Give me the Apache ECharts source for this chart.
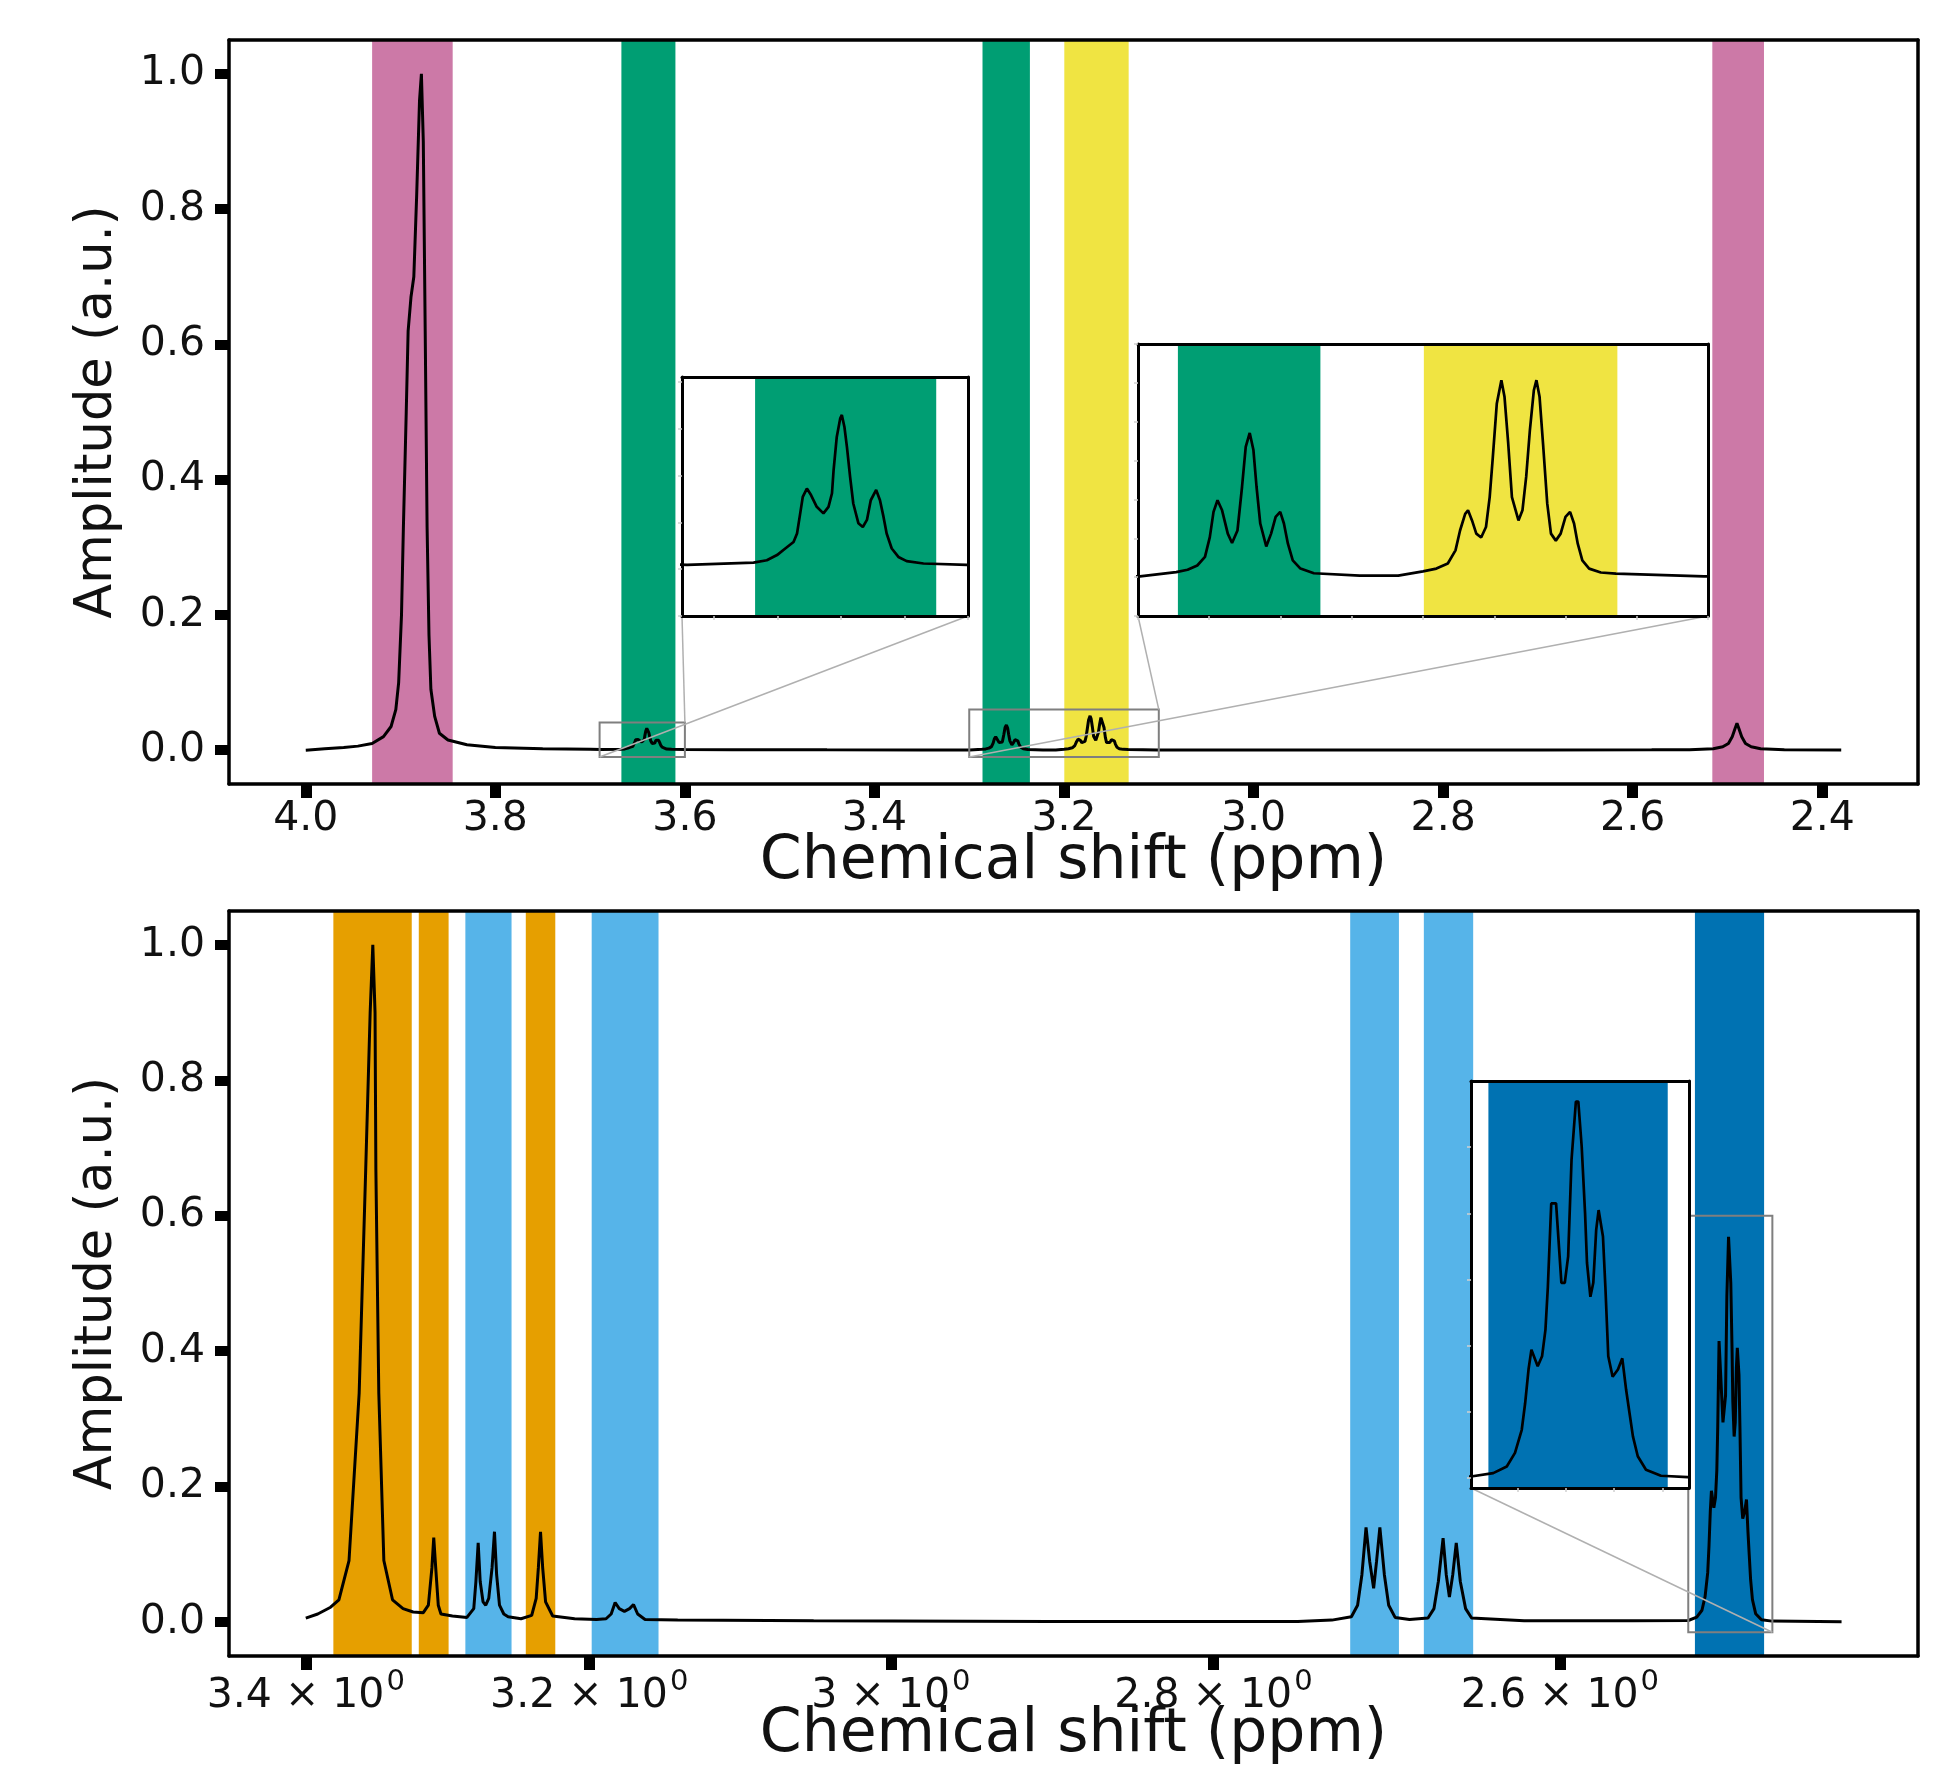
<!DOCTYPE html>
<html><head><meta charset="utf-8">
<script src="https://cdn.jsdelivr.net/npm/echarts@6/dist/echarts.min.js"></script>
<style>html,body{margin:0;padding:0;background:#fff}#c{width:1958px;height:1765px}</style>
</head><body><div id="c"></div>
<script>
// ---------------- data ----------------
// top panel spectrum: [chemical shift (ppm), amplitude]
const topSpectrum = [
[4.000,0.000],[3.980,0.002],[3.960,0.004],[3.945,0.006],[3.930,0.010],[3.918,0.020],[3.910,0.035],[3.905,0.060],
[3.902,0.100],[3.899,0.200],[3.897,0.330],[3.894,0.500],[3.892,0.620],[3.889,0.670],[3.886,0.700],[3.883,0.820],
[3.880,0.960],[3.878,1.000],[3.876,0.900],[3.874,0.620],[3.872,0.330],[3.870,0.170],[3.868,0.090],[3.864,0.050],
[3.859,0.025],[3.850,0.015],[3.830,0.008],[3.800,0.004],[3.750,0.002],[3.700,0.0012],
[3.6884,0.0009],[3.6675,0.0014],[3.6633,0.0019],[3.6601,0.0030],[3.6575,0.0044],[3.6549,0.0058],[3.6538,0.0076],
[3.6528,0.0119],[3.6520,0.0154],[3.6507,0.0172],[3.6494,0.0158],[3.6476,0.0133],[3.6455,0.0119],[3.6439,0.0133],
[3.6428,0.0162],[3.6423,0.0211],[3.6413,0.0282],[3.6402,0.0322],[3.6397,0.0329],[3.6389,0.0304],[3.6381,0.0261],
[3.6371,0.0197],[3.6361,0.0140],[3.6345,0.0098],[3.6331,0.0090],[3.6318,0.0105],[3.6306,0.0147],[3.6289,0.0169],
[3.6277,0.0147],[3.6266,0.0112],[3.6256,0.0076],[3.6240,0.0044],[3.6219,0.0026],[3.6193,0.0017],[3.6140,0.0012],
[3.6004,0.0009],[3.5500,0.0007],[3.4500,0.0005],[3.3500,0.0004],
[3.2993,0.0002],[3.2866,0.0013],[3.2826,0.0019],[3.2792,0.0030],[3.2765,0.0052],[3.2748,0.0103],[3.2735,0.0168],
[3.2721,0.0198],[3.2705,0.0172],[3.2685,0.0112],[3.2670,0.0088],[3.2651,0.0120],[3.2635,0.0232],[3.2622,0.0335],
[3.2608,0.0371],[3.2595,0.0327],[3.2584,0.0232],[3.2571,0.0138],[3.2550,0.0079],[3.2533,0.0112],[3.2517,0.0155],
[3.2501,0.0168],[3.2488,0.0138],[3.2474,0.0086],[3.2457,0.0043],[3.2430,0.0022],[3.2383,0.0010],[3.2222,0.0004],
[3.2087,0.0004],[3.2000,0.0015],[3.1953,0.0022],[3.1913,0.0035],[3.1886,0.0069],[3.1870,0.0120],[3.1852,0.0163],
[3.1842,0.0172],[3.1828,0.0146],[3.1813,0.0112],[3.1796,0.0102],[3.1779,0.0129],[3.1766,0.0206],[3.1755,0.0309],
[3.1741,0.0447],[3.1725,0.0507],[3.1714,0.0464],[3.1701,0.0344],[3.1688,0.0206],[3.1665,0.0146],[3.1651,0.0172],
[3.1638,0.0258],[3.1625,0.0378],[3.1611,0.0481],[3.1602,0.0507],[3.1591,0.0464],[3.1578,0.0335],[3.1564,0.0189],
[3.1551,0.0112],[3.1534,0.0094],[3.1517,0.0112],[3.1500,0.0155],[3.1484,0.0168],[3.1470,0.0138],[3.1457,0.0086],
[3.1441,0.0043],[3.1417,0.0022],[3.1376,0.0012],[3.1323,0.0009],[3.1014,0.0002],
[3.0000,0.0003],[2.8500,0.0003],[2.7000,0.0003],[2.5800,0.0005],[2.5400,0.0008],
[2.515,0.002],[2.505,0.005],[2.499,0.010],[2.495,0.020],[2.492,0.032],[2.490,0.040],[2.488,0.032],[2.485,0.020],
[2.481,0.010],[2.475,0.005],[2.465,0.002],[2.440,0.0008],[2.380,0.0002]
];
// bottom panel spectrum: [chemical shift (ppm), amplitude]
const bottomSpectrum = [
[3.4000,0.006],[3.3913,0.012],[3.3820,0.022],[3.3760,0.033],[3.3687,0.091],[3.3614,0.338],[3.3567,0.668],[3.3535,0.900],
[3.3516,1.000],[3.3500,0.900],[3.3494,0.668],[3.3473,0.338],[3.3437,0.091],[3.3375,0.033],[3.3300,0.020],[3.3228,0.015],
[3.3156,0.014],[3.3120,0.025],[3.3095,0.080],[3.3082,0.125],[3.3068,0.080],[3.3050,0.025],[3.3031,0.012],[3.2950,0.009],
[3.2848,0.007],[3.2800,0.020],[3.2785,0.060],[3.2769,0.117],[3.2755,0.060],[3.2735,0.030],[3.2716,0.025],[3.2695,0.035],
[3.2672,0.080],[3.2655,0.1335],[3.2640,0.070],[3.2620,0.025],[3.2590,0.012],[3.2560,0.008],[3.2470,0.005],
[3.2396,0.010],[3.2365,0.035],[3.2350,0.080],[3.2335,0.1335],[3.2320,0.080],[3.2300,0.030],[3.2251,0.009],[3.2100,0.005],
[3.1950,0.004],[3.1885,0.005],[3.1850,0.012],[3.1823,0.029],[3.1795,0.020],[3.1760,0.016],[3.1725,0.020],[3.1698,0.026],
[3.1670,0.012],[3.1620,0.004],[3.1400,0.003],[3.0500,0.002],[2.9000,0.001],[2.7500,0.001],[2.7300,0.003],
[2.7186,0.008],[2.7150,0.025],[2.7125,0.070],[2.7101,0.140],[2.7080,0.090],[2.7057,0.050],[2.7040,0.090],[2.7021,0.140],
[2.6995,0.070],[2.6970,0.025],[2.6933,0.007],[2.6850,0.004],
[2.6744,0.006],[2.6710,0.020],[2.6685,0.060],[2.6658,0.124],[2.6640,0.070],[2.6622,0.037],[2.6603,0.070],[2.6583,0.117],
[2.6560,0.060],[2.6530,0.020],[2.6496,0.006],[2.6200,0.002],[2.5600,0.002],
[2.5296,0.0024],[2.5250,0.0075],[2.5222,0.0175],[2.5205,0.038],[2.5191,0.073],[2.5184,0.113],[2.5177,0.164],[2.5171,0.194],
[2.5158,0.169],[2.5149,0.184],[2.5142,0.224],[2.5137,0.289],[2.5130,0.415],[2.5120,0.415],[2.5109,0.295],[2.5102,0.295],
[2.5095,0.335],[2.5088,0.481],[2.5079,0.569],[2.5074,0.569],[2.5067,0.501],[2.5060,0.400],[2.5056,0.325],[2.5049,0.274],
[2.5043,0.295],[2.5037,0.375],[2.5032,0.405],[2.5023,0.365],[2.5018,0.289],[2.5012,0.184],[2.5003,0.153],[2.4992,0.164],
[2.4983,0.181],[2.4975,0.133],[2.4968,0.098],[2.4961,0.063],[2.4951,0.033],[2.4934,0.0125],[2.4903,0.0035],[2.4848,0.0015],
[2.4480,0.0005]
];
// shaded regions (ppm)
const topBandFrom  = [3.930, 3.667, 3.286, 3.1997, 2.516];
const topBandTo    = [3.845, 3.610, 3.236, 3.1318, 2.4615];
const topBandGroup = ['pink','green','green','yellow','pink'];
const bottomBandFrom  = [3.380, 3.3188, 3.2859, 3.2437, 3.1983, 2.7193, 2.6768, 2.5260];
const bottomBandTo    = [3.3238, 3.2977, 3.2536, 3.2233, 3.1529, 2.6911, 2.6487, 2.4889];
const bottomBandGroup = ['orange','orange','sky','orange','sky','sky','sky','blue'];
// axis ticks
const topXTicks = [4.0, 3.8, 3.6, 3.4, 3.2, 3.0, 2.8, 2.6, 2.4];
const ampTicks = [0, 0.2, 0.4, 0.6, 0.8, 1.0];
const bottomXTicks = [3.4, 3.2, 3.0, 2.8, 2.6];
const bottomXTickMantissa = ['3.4', '3.2', '3', '2.8', '2.6'];
const bottomXTickExponent = ['0', '0', '0', '0', '0'];
// axis limits
const topXLim = [4.081, 2.299];
const bottomXLim = [3.4563, 2.4083];
const ampLim = [-0.05, 1.05];
// inset zoom windows [left, right] in ppm and [bottom, top] in amplitude
const inset1X = [3.690, 3.600], inset1Y = [-0.010, 0.041];
const inset2X = [3.300, 3.100], inset2Y = [-0.010, 0.060];
const inset3X = [2.5296, 2.4845], inset3Y = [-0.015, 0.600];
const inset1XTicks = [3.68, 3.66, 3.64, 3.62, 3.60], inset1YTicks = [-0.01, 0, 0.01, 0.02, 0.03, 0.04];
const inset2XTicks = [3.30, 3.275, 3.25, 3.225, 3.20, 3.175, 3.15, 3.125, 3.10], inset2YTicks = [-0.01, 0, 0.01, 0.02, 0.03, 0.04, 0.05, 0.06];
const inset3XTicks = [2.52, 2.51, 2.50, 2.49], inset3YTicks = [0, 0.1, 0.2, 0.3, 0.4, 0.5];

// ---------------- styling ----------------
const FONT = 'DejaVu Sans';
const palette = {pink:'#CC79A7', green:'#009E73', yellow:'#F0E442', orange:'#E69F00', sky:'#56B4E9', blue:'#0072B2'};
const gridRects = [
  {left:229, top:40, width:1689, height:744},
  {left:229, top:911, width:1689, height:745},
  {left:682, top:377, width:286, height:239},
  {left:1138, top:344, width:570, height:272},
  {left:1471, top:1081, width:218, height:407}
];

function bandAreas(from, to, group, lim) {
  const lo = Math.min(lim[0], lim[1]), hi = Math.max(lim[0], lim[1]);
  const out = [];
  for (let i = 0; i < from.length; i++) {
    const a = Math.max(from[i], to[i]), b = Math.min(from[i], to[i]);
    if (b >= hi || a <= lo) continue;
    out.push([{xAxis: Math.min(a, hi), itemStyle: {color: palette[group[i]], opacity: 1}}, {xAxis: Math.max(b, lo)}]);
  }
  return out;
}

const xAxes = [], yAxes = [], series = [];
function frame(g, xType, xLim, yLim, zAx, main) {
  const line = {show: true, onZero: false, lineStyle: {color: '#000', width: main ? 3.5 : 3}};
  const bx = {gridIndex: g, type: xType, min: Math.min(xLim[0], xLim[1]), max: Math.max(xLim[0], xLim[1]), inverse: true,
    position: 'bottom', z: zAx, axisLine: line, splitLine: {show: false}, silent: true, nameMoveOverlap: false};
  if (xType === 'log') bx.logBase = 10;
  const tx = Object.assign({}, bx, {position: 'top', axisTick: {show: false}, axisLabel: {show: false}, name: ''});
  const ly = {gridIndex: g, type: 'value', min: yLim[0], max: yLim[1], position: 'left', z: zAx, axisLine: line,
    splitLine: {show: false}, silent: true, nameMoveOverlap: false};
  const ry = Object.assign({}, ly, {position: 'right', axisTick: {show: false}, axisLabel: {show: false}});
  xAxes.push(bx, tx); yAxes.push(ly, ry);
  return {bx, ly};
}

const tickLabelStyle = {fontFamily: FONT, fontSize: 41, color: '#111'};
const xTitleStyle = {fontFamily: FONT, fontSize: 60, color: '#111', verticalAlign: 'top'};
const yTitleStyle = {fontFamily: FONT, fontSize: 51, color: '#111'};

// main top
let a = frame(0, 'value', topXLim, ampLim, 5, true);
a.bx.axisTick = {show: true, customValues: topXTicks, length: 14, lineStyle: {color: '#000', width: 11}};
a.bx.axisLabel = Object.assign({show: true, customValues: topXTicks, margin: 15, formatter: v => Number(v).toFixed(1)}, tickLabelStyle);
a.bx.name = 'Chemical shift (ppm)'; a.bx.nameLocation = 'middle'; a.bx.nameGap = 48;
a.bx.nameTextStyle = xTitleStyle;
a.ly.axisTick = {show: true, customValues: ampTicks, length: 14, lineStyle: {color: '#000', width: 10}};
a.ly.axisLabel = Object.assign({show: true, customValues: ampTicks, margin: 24, formatter: v => Number(v).toFixed(1)}, tickLabelStyle);
a.ly.name = 'Amplitude (a.u.)'; a.ly.nameLocation = 'middle'; a.ly.nameGap = 106;
a.ly.nameTextStyle = yTitleStyle;

// main bottom (logarithmic x)
a = frame(1, 'log', bottomXLim, ampLim, 5, true);
a.bx.axisTick = {show: true, customValues: bottomXTicks, length: 14, lineStyle: {color: '#000', width: 11}};
a.bx.axisLabel = {show: true, customValues: bottomXTicks, margin: 12, fontFamily: FONT, color: '#111',
  formatter: v => {
    for (let i = 0; i < bottomXTicks.length; i++)
      if (Math.abs(bottomXTicks[i] - v) < 1e-6) return '{m|' + bottomXTickMantissa[i] + ' × 10}{e|' + bottomXTickExponent[i] + '}';
    return '';
  },
  rich: {
    m: {fontFamily: FONT, fontSize: 41, color: '#111', lineHeight: 56, verticalAlign: 'middle'},
    e: {fontFamily: FONT, fontSize: 29, color: '#111', lineHeight: 56, verticalAlign: 'top', padding: [0, 0, 0, 2]}
  }};
a.bx.name = 'Chemical shift (ppm)'; a.bx.nameLocation = 'middle'; a.bx.nameGap = 49;
a.bx.nameTextStyle = xTitleStyle;
a.ly.axisTick = {show: true, customValues: ampTicks, length: 14, lineStyle: {color: '#000', width: 10}};
a.ly.axisLabel = Object.assign({show: true, customValues: ampTicks, margin: 24, formatter: v => Number(v).toFixed(1)}, tickLabelStyle);
a.ly.name = 'Amplitude (a.u.)'; a.ly.nameLocation = 'middle'; a.ly.nameGap = 106;
a.ly.nameTextStyle = yTitleStyle;

// insets
const insetDefs = [
  {g: 2, x: inset1X, y: inset1Y, xt: inset1XTicks, yt: inset1YTicks, data: topSpectrum, from: topBandFrom, to: topBandTo, grp: topBandGroup},
  {g: 3, x: inset2X, y: inset2Y, xt: inset2XTicks, yt: inset2YTicks, data: topSpectrum, from: topBandFrom, to: topBandTo, grp: topBandGroup},
  {g: 4, x: inset3X, y: inset3Y, xt: inset3XTicks, yt: inset3YTicks, data: bottomSpectrum, from: bottomBandFrom, to: bottomBandTo, grp: bottomBandGroup}
];
insetDefs.forEach(d => {
  const f = frame(d.g, 'value', d.x, d.y, 12, false);
  f.bx.axisTick = {show: true, customValues: d.xt, length: 4, lineStyle: {color: '#cfcfcf', width: 1.5}};
  f.bx.axisLabel = {show: false};
  f.ly.axisTick = {show: true, customValues: d.yt, length: 4, lineStyle: {color: '#cfcfcf', width: 1.5}};
  f.ly.axisLabel = {show: false};
});

// series: main panels
const mainDefs = [
  {g: 0, data: topSpectrum, from: topBandFrom, to: topBandTo, grp: topBandGroup, xl: topXLim, boxes: [[inset1X, inset1Y], [inset2X, inset2Y]]},
  {g: 1, data: bottomSpectrum, from: bottomBandFrom, to: bottomBandTo, grp: bottomBandGroup, xl: bottomXLim, boxes: [[inset3X, inset3Y]]}
];
mainDefs.forEach(d => {
  const ax = 2 * d.g;
  series.push({type: 'line', xAxisIndex: ax, yAxisIndex: ax, data: [], z: 1, silent: true,
    markArea: {silent: true, z: 1, data: bandAreas(d.from, d.to, d.grp, d.xl)}});
  series.push({type: 'line', xAxisIndex: ax, yAxisIndex: ax, data: d.data, z: 3, silent: true, showSymbol: false,
    lineStyle: {color: '#000', width: 3}, emphasis: {disabled: true}});
  series.push({type: 'line', xAxisIndex: ax, yAxisIndex: ax, data: [], z: 4, silent: true,
    markArea: {silent: true, z: 4, itemStyle: {color: 'rgba(0,0,0,0)', borderColor: '#7f7f7f', borderWidth: 2},
      data: d.boxes.map(b => [{xAxis: b[0][0], yAxis: b[1][0]}, {xAxis: b[0][1], yAxis: b[1][1]}])}});
});
insetDefs.forEach(d => {
  const ax = 2 * d.g;
  series.push({type: 'line', xAxisIndex: ax, yAxisIndex: ax, data: [], z: 9, silent: true,
    markArea: {silent: true, z: 9, data: bandAreas(d.from, d.to, d.grp, d.x)}});
  series.push({type: 'line', xAxisIndex: ax, yAxisIndex: ax, data: d.data, z: 10, silent: true, showSymbol: false, clip: true,
    lineStyle: {color: '#000', width: 2.7}, emphasis: {disabled: true}});
});

const grids = gridRects.map((r, i) => Object.assign({containLabel: false, outerBoundsMode: 'none'}, r,
  i >= 2 ? {show: true, backgroundColor: '#fff', borderWidth: 0, z: 8} : {show: false}));

const chart = echarts.init(document.getElementById('c'), null, {renderer: 'canvas'});
chart.setOption({
  animation: false,
  backgroundColor: '#fff',
  grid: grids,
  xAxis: xAxes,
  yAxis: yAxes,
  series: series
});

// connector lines between zoom boxes and insets
function px(axIdx, x, y) { return chart.convertToPixel({xAxisIndex: axIdx, yAxisIndex: axIdx}, [x, y]); }
const connectors = [];
function conn(p, q) {
  connectors.push({type: 'line', z: 6, silent: true, shape: {x1: p[0], y1: p[1], x2: q[0], y2: q[1]},
    style: {stroke: '#b0b0b0', lineWidth: 1.5}});
}
// top insets: inset lower-left -> box upper-right ; inset lower-right -> box lower-left
[[inset1X, inset1Y, 4], [inset2X, inset2Y, 6]].forEach(([X, Y, ia]) => {
  conn(px(ia, X[0], Y[0]), px(0, X[1], Y[1]));
  conn(px(ia, X[1], Y[0]), px(0, X[0], Y[0]));
});
// bottom inset: inset lower-left -> box lower-right ; inset lower-right -> box upper-left
conn(px(8, inset3X[0], inset3Y[0]), px(2, inset3X[1], inset3Y[0]));
conn(px(8, inset3X[1], inset3Y[0]), px(2, inset3X[0], inset3Y[1]));
chart.setOption({graphic: {elements: connectors}});
</script>
</body></html>
